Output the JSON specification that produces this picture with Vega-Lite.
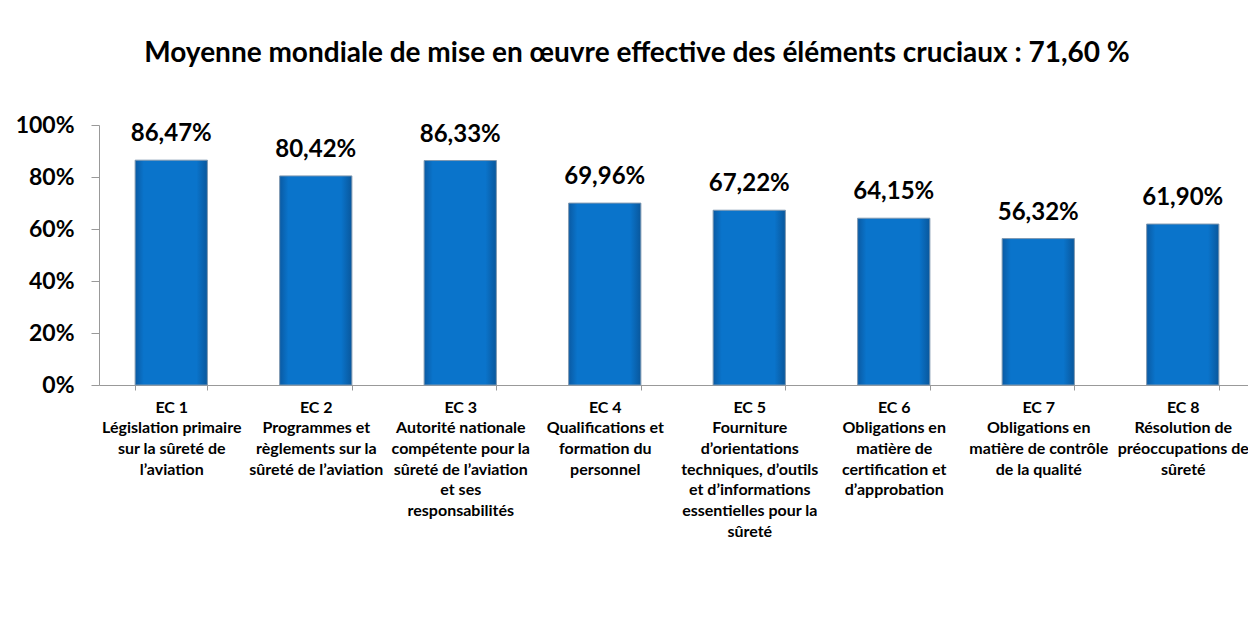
{
  "$schema": "https://vega.github.io/schema/vega-lite/v6.json",
  "autosize": {"type": "none"},
  "padding": {"left": 99, "top": 125, "right": 0, "bottom": 241},
  "width": 1156,
  "height": 260,
  "background": "white",
  "config": {
    "font": "Lato",
    "view": {"stroke": null},
    "locale": {"number": {"decimal": ",", "thousands": " ", "grouping": [3], "currency": ["", " €"]}}
  },
  "title": {
    "text": "Moyenne mondiale de mise en œuvre effective des éléments cruciaux : 71,60 %",
    "fontSize": 28,
    "fontWeight": "bold",
    "color": "black",
    "anchor": "middle",
    "dx": -40,
    "offset": 46
  },
  "data": {
    "values": [
      {"cat": "EC 1|Législation primaire|sur la sûreté de|l’aviation", "value": 0.8647},
      {"cat": "EC 2|Programmes et|règlements sur la|sûreté de l’aviation", "value": 0.8042},
      {"cat": "EC 3|Autorité nationale|compétente pour la|sûreté de l’aviation|et ses|responsabilités", "value": 0.8633},
      {"cat": "EC 4|Qualifications et|formation du|personnel", "value": 0.6996},
      {"cat": "EC 5|Fourniture|d’orientations|techniques, d’outils|et d’informations|essentielles pour la|sûreté", "value": 0.6722},
      {"cat": "EC 6|Obligations en|matière de|certification et|d’approbation", "value": 0.6415},
      {"cat": "EC 7|Obligations en|matière de contrôle|de la qualité", "value": 0.5632},
      {"cat": "EC 8|Résolution de|préoccupations de|sûreté", "value": 0.619}
    ]
  },
  "encoding": {
    "x": {
      "field": "cat",
      "type": "nominal",
      "sort": null,
      "scale": {"paddingInner": 0.5, "paddingOuter": 0.25},
      "axis": {
        "title": null,
        "labelAngle": 0,
        "labelExpr": "split(datum.label, '|')",
        "labelFont": "Lato",
        "labelFontSize": 16,
        "labelFontWeight": "bold",
        "labelColor": "black",
        "labelLineHeight": 20.7,
        "labelPadding": 9,
        "labelOverlap": false,
        "labelLimit": 0,
        "tickBand": "extent",
        "tickSize": 5,
        "tickColor": "#999999",
        "domainColor": "#999999",
        "grid": false
      }
    },
    "y": {
      "field": "value",
      "type": "quantitative",
      "scale": {"domain": [0, 1]},
      "axis": {
        "title": null,
        "values": [0, 0.2, 0.4, 0.6, 0.8, 1],
        "format": ".0%",
        "labelFont": "Lato",
        "labelFontSize": 23,
        "labelFontWeight": "bold",
        "labelColor": "black",
        "labelPadding": 17,
        "tickSize": 8,
        "tickColor": "#999999",
        "domainColor": "#999999",
        "grid": false
      }
    }
  },
  "layer": [
    {
      "mark": {
        "type": "bar",
        "stroke": "#7f98b0",
        "strokeWidth": 1,
        "color": {
          "gradient": "linear",
          "x1": 0, "y1": 0, "x2": 1, "y2": 0,
          "stops": [
            {"offset": 0, "color": "#0a5aa3"},
            {"offset": 0.12, "color": "#0a74cb"},
            {"offset": 0.85, "color": "#0a74cb"},
            {"offset": 1, "color": "#09579c"}
          ]
        }
      }
    },
    {
      "mark": {
        "type": "text",
        "baseline": "bottom",
        "dy": -14,
        "fontSize": 24,
        "fontWeight": "bold",
        "color": "black",
        "font": "Lato"
      },
      "encoding": {
        "text": {"field": "value", "type": "quantitative", "format": ".2%"}
      }
    }
  ]
}
